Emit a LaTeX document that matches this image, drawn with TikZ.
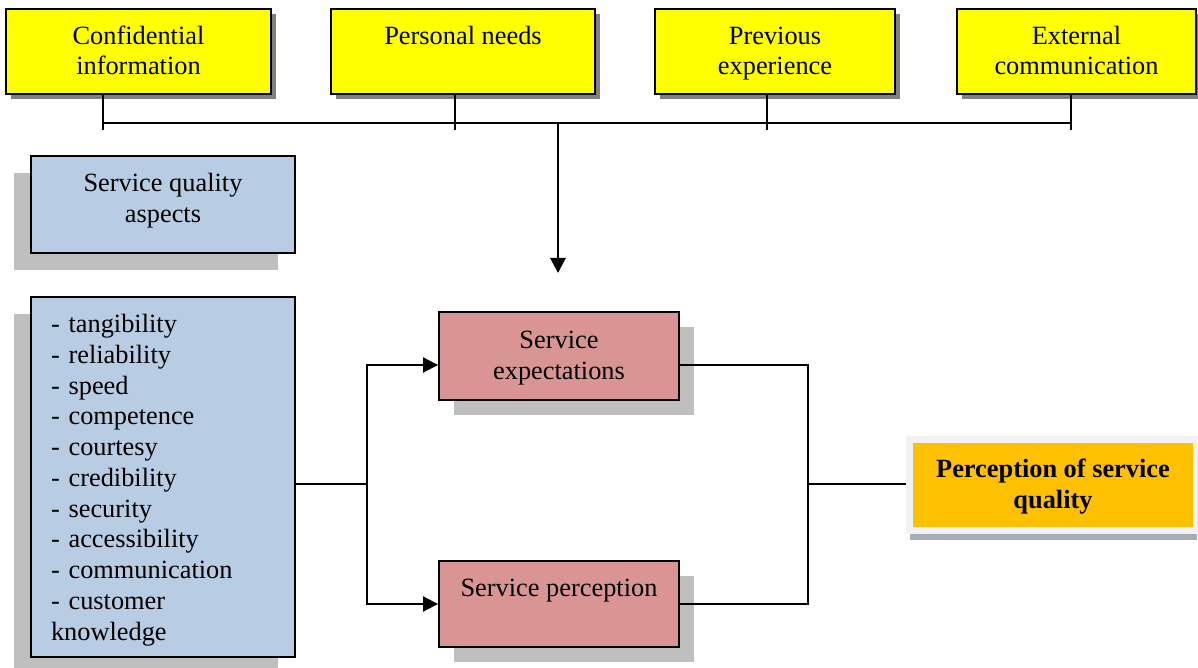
\documentclass[tikz,border=0pt]{standalone}
\usepackage{fontspec}
\setmainfont{Liberation Serif}
\usetikzlibrary{shadows,arrows.meta}

\definecolor{factorfill}{HTML}{FFFF00}
\definecolor{factorshade}{HTML}{808080}
\definecolor{aspectfill}{HTML}{B8CCE4}
\definecolor{stagefill}{HTML}{D99594}
\definecolor{lightshade}{HTML}{BFBFBF}
\definecolor{resultfill}{HTML}{FFC000}
\definecolor{resultframe}{HTML}{F2F2F2}
\definecolor{resultshade}{HTML}{A5ADBB}

\newcommand\diagfont{\fontsize{15}{17.5}\selectfont}

\begin{document}
\begin{tikzpicture}[
  x=0.02cm, y=-0.02cm,
  font=\diagfont,
  card/.style={draw, line width=1.1pt, align=center, inner sep=0pt,
    text height=29.5pt, text depth=2.9pt},
  oneline/.style={text height=12pt, text depth=20.4pt},
  factor/.style={card, fill=factorfill, minimum height=1.7cm,
    drop shadow={shadow xshift=0.1cm, shadow yshift=-0.1cm, fill=factorshade, opacity=1}},
  aspect/.style={card, fill=aspectfill, minimum width=5.28cm,
    drop shadow={shadow xshift=-0.34cm, shadow yshift=-0.34cm, fill=lightshade, opacity=1}},
  stage/.style={card, fill=stagefill, minimum width=4.8cm,
    drop shadow={shadow xshift=0.3cm, shadow yshift=-0.3cm, fill=lightshade, opacity=1}},
  result/.style={draw=resultframe, line width=0.14cm, fill=resultfill, align=center,
    inner sep=0pt, font=\diagfont\bfseries, text height=29.5pt, text depth=2.9pt,
    drop shadow={shadow xshift=0.01cm, shadow yshift=-0.19cm, fill=resultshade, opacity=1}},
  link/.style={line width=1.1pt},
  feed/.style={link, -{Triangle[length=0.3cm,width=0.3cm]}}
]
  \useasboundingbox (0,0) rectangle (1198,668);

  \node[factor, minimum width=5.3cm]  (conf)  at (138.5,51.5) {Confidential\\information};
  \node[factor, minimum width=5.28cm, oneline] (needs) at (463,51.5) {Personal needs};
  \node[factor, minimum width=4.8cm]  (prev)  at (775,51.5)   {Previous\\experience};
  \node[factor, minimum width=4.78cm] (extc)  at (1076.5,51.5) {External\\communication};

  \node[aspect, minimum height=1.94cm, text depth=9.3pt] (sqa) at (163,204.5) {Service quality\\aspects};
  \node[aspect, minimum height=7.2cm, text width=4.48cm, align=left,
    text height=12pt, text depth=176.3pt] (traits) at (163,477)
    {- tangibility\\- reliability\\- speed\\- competence\\- courtesy\\- credibility\\
     - security\\- accessibility\\- communication\\- customer\\knowledge};

  \node[stage, minimum height=1.76cm] (expc) at (559,356) {Service\\expectations};
  \node[stage, minimum height=1.72cm, oneline] (perc) at (559,604) {Service perception};

  \node[result, minimum width=5.74cm, minimum height=1.82cm] (pq) at (1053,485)
    {Perception of service\\quality};

  \coordinate (b1) at (103,123);
  \coordinate (b2) at (455,123);
  \coordinate (b3) at (767,123);
  \coordinate (b4) at (1071,123);
  \coordinate (hub) at (558,123);
  \coordinate (drop) at (558,273);
  \coordinate (split) at (367,484);
  \coordinate (join) at (808,484);

  \draw[link] (b1) -- (b4);
  \foreach \b/\n in {b1/conf, b2/needs, b3/prev, b4/extc}
    \draw[link] (\b |- \n.south) -- ([yshift=-0.14cm]\b);
  \draw[feed, line width=1.6pt] (hub) -- (drop);

  \draw[link] (split -| traits.east) -- (split);
  \draw[feed] (split) |- ([yshift=-0.18cm]expc.west);
  \draw[feed] (split) |- (perc.west);
  \draw[link] ([yshift=-0.18cm]expc.east) -| (join);
  \draw[link] (perc.east) -| (join);
  \draw[link] (join) -- (join -| pq.west);
\end{tikzpicture}
\end{document}
